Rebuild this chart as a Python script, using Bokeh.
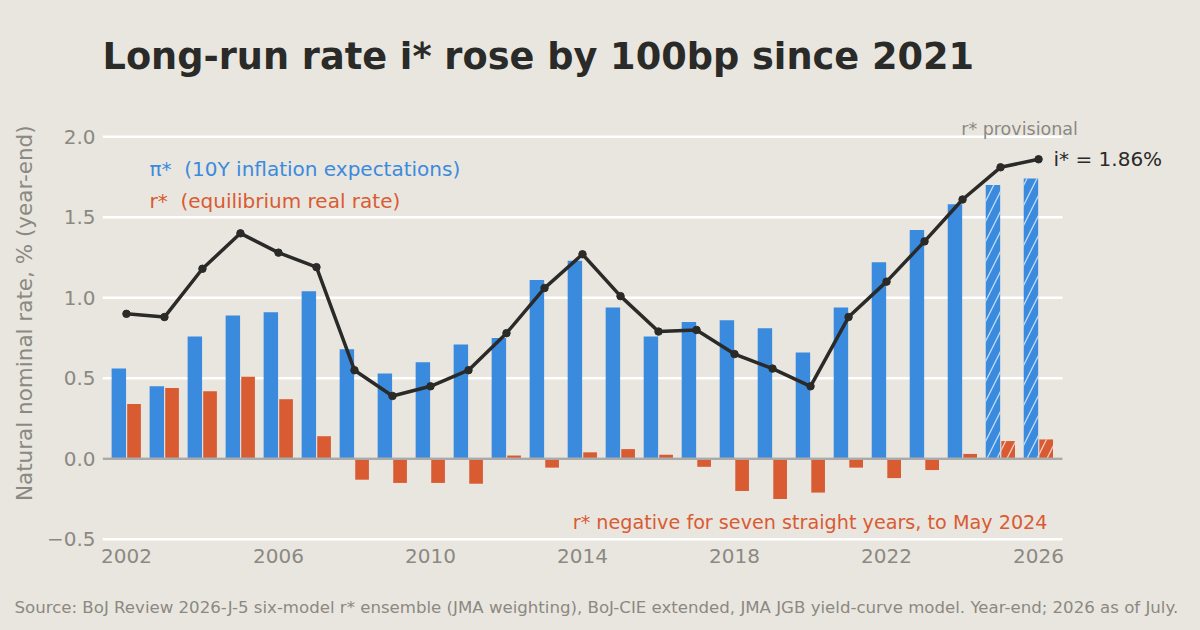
import numpy as np
from bokeh.plotting import figure
from bokeh.models import ColumnDataSource, Label, FixedTicker, Range1d, CustomJSTickFormatter, Title
from bokeh.embed import file_html
from bokeh.resources import INLINE

years = list(range(2002, 2027))
pi_star = [0.56, 0.45, 0.76, 0.89, 0.91, 1.04, 0.68, 0.53, 0.60, 0.71, 0.75, 1.11, 1.23,
           0.94, 0.76, 0.85, 0.86, 0.81, 0.66, 0.94, 1.22, 1.42, 1.58, 1.70, 1.74]
r_star = [0.34, 0.44, 0.42, 0.51, 0.37, 0.14, -0.13, -0.15, -0.15, -0.155, 0.02, -0.055, 0.04,
          0.06, 0.025, -0.05, -0.20, -0.25, -0.21, -0.055, -0.12, -0.07, 0.03, 0.11, 0.12]
i_star = [0.90, 0.88, 1.18, 1.40, 1.28, 1.19, 0.55, 0.39, 0.45, 0.55, 0.78, 1.06, 1.27,
          1.01, 0.79, 0.80, 0.65, 0.56, 0.45, 0.88, 1.10, 1.35, 1.61, 1.81, 1.86]
provisional_from = 2025
x_ticks = [2002, 2006, 2010, 2014, 2018, 2022, 2026]
y_ticks = [-0.5, 0.0, 0.5, 1.0, 1.5, 2.0]

BG = "#e9e6df"
BLUE = "#3a8ade"
ORANGE = "#d95b32"
DARK = "#2a2a28"
GRAY = "#8b8982"
FONT = "DejaVu Sans"

W, H = 1200, 630
LEFT, TOP, BOTTOM = 102, 104, 88
x_lo, x_hi = 2001.37, 2026.63          # extent of the plotting area (grid)
plot_px = 960                           # pixel width of the plotting area
frame_w = W - LEFT
x_end = x_lo + (x_hi - x_lo) * frame_w / plot_px

yrs = np.array(years, dtype=float)
prov = yrs >= provisional_from
def src(mask):
    return ColumnDataSource(dict(
        xb=(yrs - 0.2)[mask], xr=(yrs + 0.2)[mask],
        pi=np.array(pi_star)[mask], r=np.array(r_star)[mask]))
src_final = src(~prov)
src_prov = src(prov)
line_src = ColumnDataSource(dict(x=years, y=i_star))

p = figure(width=W, height=H,
           x_range=Range1d(x_lo, x_end), y_range=Range1d(-0.52, 2.2),
           output_backend="svg", toolbar_location=None,
           min_border_left=LEFT, min_border_right=0, min_border_top=TOP, min_border_bottom=BOTTOM)
p.background_fill_color = BG
p.border_fill_color = BG
p.outline_line_color = None

p.title.text = "Long-run rate i* rose by 100bp since 2021"
p.title.align = "left"
p.title.text_font = FONT
p.title.text_font_size = "36.7px"
p.title.text_font_style = "bold"
p.title.text_color = DARK
p.title.standoff = 54

p.add_layout(Title(text="\nSource: BoJ Review 2026-J-5 six-model r* ensemble (JMA weighting), BoJ-CIE extended, JMA JGB yield-curve model. Year-end; 2026 as of July.",
                   align="left", offset=-88, text_font=FONT, text_font_size="16.6px",
                   text_font_style="normal", text_color=GRAY, standoff=22), "below")

p.xgrid.grid_line_color = None
p.ygrid.grid_line_color = None
p.segment(x0=x_lo, x1=x_hi, y0="y", y1="y", source=ColumnDataSource(dict(y=y_ticks)),
          line_color="white", line_width=2.5, level="underlay")

for ax in (p.xaxis, p.yaxis):
    ax.axis_line_color = None
    ax.major_tick_line_color = None
    ax.minor_tick_line_color = None
    ax.major_tick_out = 0
    ax.minor_tick_out = 0
    ax.major_label_text_font = FONT
    ax.major_label_text_font_size = "20px"
    ax.major_label_text_color = GRAY
p.xaxis.ticker = FixedTicker(ticks=x_ticks)
p.xaxis.major_label_standoff = 6
p.yaxis.ticker = FixedTicker(ticks=y_ticks)
p.yaxis.formatter = CustomJSTickFormatter(code="return (tick < 0 ? '\u2212' : '') + Math.abs(tick).toFixed(1);")
p.yaxis.major_label_standoff = 7
p.yaxis.axis_label = "\u00a0\u00a0\u00a0Natural nominal rate, % (year-end)"
p.yaxis.axis_label_text_font = FONT
p.yaxis.axis_label_text_font_size = "21.5px"
p.yaxis.axis_label_text_font_style = "normal"
p.yaxis.axis_label_text_color = GRAY
p.yaxis.axis_label_standoff = 7

for s, hatch in ((src_final, None), (src_prov, "/")):
    kw = {}
    if hatch:
        kw = dict(hatch_pattern=hatch, hatch_color="white", hatch_alpha=0.7,
                  hatch_scale=20, hatch_weight=1.3)
    p.vbar(x="xb", top="pi", bottom=0, width=0.38, source=s,
           fill_color=BLUE, line_color=None, **kw)
    p.vbar(x="xr", top="r", bottom=0, width=0.36, source=s,
           fill_color=ORANGE, line_color=None, **kw)

p.segment(x0=[x_lo], x1=[x_hi], y0=[0], y1=[0], line_color="#aaaaaa", line_width=2.5)

p.line("x", "y", source=line_src, line_color=DARK, line_width=3.5)
p.scatter("x", "y", source=line_src, size=7.5, fill_color=DARK, line_color=DARK)

def lab(text, x, y, size, color, units="screen", align="left", baseline="middle", style="normal", **kw):
    p.add_layout(Label(text=text, x=x, y=y, x_units=units, y_units=units,
                       text_font=FONT, text_font_size=size, text_color=color,
                       text_align=align, text_baseline=baseline, text_font_style=style, **kw))

lab("\u03c0*\u00a0 (10Y inflation expectations)", 47, 374, "20px", BLUE)
lab("r*\u00a0 (equilibrium real rate)", 47, 342, "20px", ORANGE)
lab("r* negative for seven straight years, to May 2024", 945, 20, "19.2px", ORANGE, align="right")
lab("r* provisional", 2025.5, 2.05, "17.5px", GRAY, units="data", align="center")
lab("i* = %.2f%%" % i_star[-1], years[-1], i_star[-1], "20px", DARK, units="data", x_offset=15)

html = file_html(p, INLINE).replace("<body>", '<body style="background:%s">' % BG)
open("out.html", "w").write(html)
